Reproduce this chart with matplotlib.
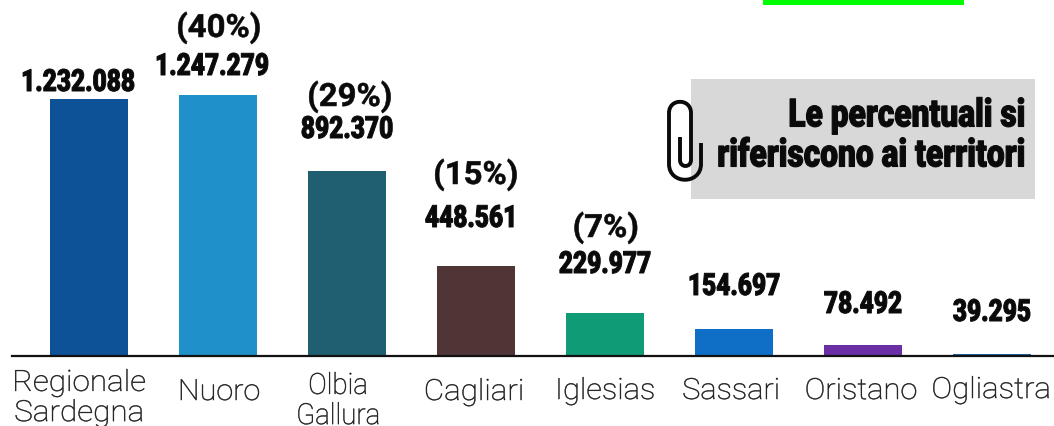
import matplotlib
matplotlib.use("Agg")
import matplotlib.pyplot as plt
from matplotlib.path import Path
from matplotlib.patches import PathPatch, Rectangle
from matplotlib.patheffects import AbstractPathEffect
from matplotlib.transforms import Affine2D

W, H = 1054, 426
categories = ["Regionale\nSardegna", "Nuoro", "Olbia\nGallura", "Cagliari", "Iglesias", "Sassari", "Oristano", "Ogliastra"]
values = [1232088, 1247279, 892370, 448561, 229977, 154697, 78492, 39295]
value_labels = ["1.232.088", "1.247.279", "892.370", "448.561", "229.977", "154.697", "78.492", "39.295"]
percent_labels = ["", "(40%)", "(29%)", "(15%)", "(7%)", "", "", ""]
colors = ["#0D5296", "#2090CA", "#205F72", "#503536", "#0F9B76", "#0F6FC6", "#6B2FA5", "#1F5FA8"]

value_x = [78, 212, 347, 471, 605, 734, 863, 992]
value_y = [82, 66, 129, 218, 264, 286, 304, 312]
percent_x = [0, 219, 350, 476, 606, 0, 0, 0]
percent_y = [0, 28, 97, 175, 228, 0, 0, 0]
tick_x = [79, 219, 338, 474, 605, 731, 861, 991]
tick_y = [398, 392, 401, 392, 391, 391, 391, 390]
tick_sx = [1.08, 1.05, 0.95, 1.075, 1.06, 1.055, 1.06, 1.07]


class Stretch(AbstractPathEffect):
    """Scale drawn glyphs horizontally about a pixel position; optionally thicken them."""
    def __init__(self, sx, anchor, stroke=0.0):
        super().__init__()
        self.sx, self.anchor, self.stroke = sx, anchor, stroke

    def draw_path(self, renderer, gc, tpath, affine, rgbFace=None):
        a = affine + Affine2D().translate(-self.anchor, 0).scale(self.sx, 1).translate(self.anchor, 0)
        g = renderer.new_gc()
        g.copy_properties(gc)
        if self.stroke:
            g.set_linewidth(self.stroke)
            g.set_foreground(rgbFace)
        renderer.draw_path(g, tpath, a, rgbFace)
        g.restore()


fig = plt.figure(figsize=(W / 100, H / 100), dpi=100, facecolor="white")
ax = fig.add_axes([12 / W, 1 - 355.5 / H, (W - 12) / W, 355.5 / H])
ax.set_xlim((12 - 89) / 129, (W - 89) / 129)
ax.set_ylim(30000, 1694000)
ax.bar(range(len(values)), values, width=78 / 129, color=colors, zorder=2)
ax.set_yticks([])
ax.set_xticks([])
for s in ["top", "left", "right"]:
    ax.spines[s].set_visible(False)
ax.spines["bottom"].set_linewidth(1.6)
ax.spines["bottom"].set_color("#111111")
ax.patch.set_alpha(0)

px = Affine2D().scale(1 / W, -1 / H).translate(0, 1) + fig.transFigure


def ptext(x, y, s, sx=1.0, stroke=0.0, **kw):
    t = fig.text(x, y, s, transform=px, **kw)
    t.set_path_effects([Stretch(sx, x, stroke)])
    return t


bold = dict(family="Roboto", weight="black", color="#0a0a0a", va="center")
for i in range(len(values)):
    ptext(value_x[i], value_y[i], value_labels[i], sx=0.8, stroke=0.7, fontsize=22, ha="center", **bold)
    if percent_labels[i]:
        ptext(percent_x[i], percent_y[i], percent_labels[i], sx=1.03, stroke=0.4, fontsize=23,
              family="Roboto", weight="bold", color="#0a0a0a", ha="center", va="center")
    ptext(tick_x[i], tick_y[i], categories[i], sx=tick_sx[i], stroke=0.35, fontsize=21, family="Roboto",
          weight="light", color="#1a1a1a", ha="center", va="center", linespacing=1.1)

fig.add_artist(Rectangle((763, 0), 201, 5, transform=px, color="#00FF00", lw=0))
fig.add_artist(Rectangle((691, 79), 344, 120, transform=px, color="#D8D8D8", lw=0))

clip = Path(
    [(701, 143), (701, 164), (701, 185), (669, 185), (669, 164), (669, 113), (669, 98), (691, 98), (691, 113),
     (691, 160), (691, 168), (680, 168), (680, 160), (680, 137)],
    [Path.MOVETO, Path.LINETO, Path.CURVE4, Path.CURVE4, Path.CURVE4, Path.LINETO, Path.CURVE4, Path.CURVE4,
     Path.CURVE4, Path.LINETO, Path.CURVE4, Path.CURVE4, Path.CURVE4, Path.LINETO],
)
fig.add_artist(PathPatch(clip, transform=px, fill=False, edgecolor="#0a0a0a", lw=2.8, capstyle="butt"))

note = dict(family="Roboto", weight="black", color="#0a0a0a", ha="right", va="center", fontsize=28)
ptext(1025, 116, "Le percentuali si", sx=0.815, stroke=0.8, **note)
ptext(1025, 156, "riferiscono ai territori", sx=0.815, stroke=0.8, **note)

fig.savefig("out.png", dpi=100, facecolor="white")
